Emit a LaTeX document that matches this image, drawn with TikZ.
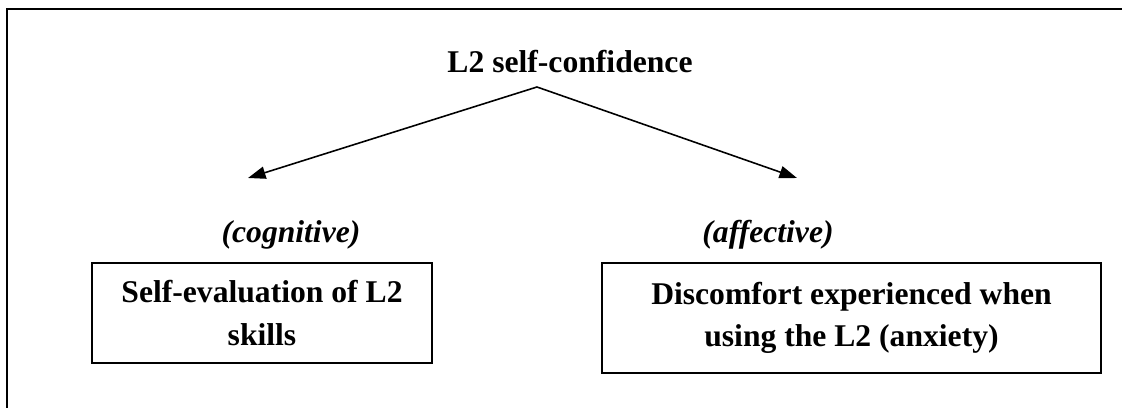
\documentclass[tikz,border=0pt]{standalone}
\usepackage{fontspec}
\setmainfont{Liberation Serif}
\usetikzlibrary{arrows.meta}
\tikzset{
  txt/.style={font=\fontsize{18}{23}\selectfont\bfseries, inner sep=0pt},
  aspekt/.style={font=\fontsize{18}{23}\selectfont\bfseries\itshape, inner sep=0pt},
  kasten/.style={draw, line width=1.1pt, align=center, font=\fontsize{18}{24}\selectfont\bfseries},
  pfeil/.style={line width=0.9pt, -{Triangle[length=10pt,width=7pt]}}
}
\begin{document}
\begin{tikzpicture}[x=0.02cm,y=-0.02cm]
\useasboundingbox (0,0) rectangle (1122,408);

%Rahmen
\draw[line width=1.3pt] (7,408) -- (7,9) -- (1122,9);

%Oberbegriff
\node[txt, anchor=base] (conf) at (570,73) {L2 self-confidence};
\coordinate (spitze) at (537,87);
\coordinate (links) at (248,178);
\coordinate (rechts) at (797,178);
\draw[pfeil] (spitze) -- (links);
\draw[pfeil] (spitze) -- (rechts);

%Aspekte
\foreach \n/\x/\t in {cog/291/cognitive, aff/768/affective}
{
	\node[aspekt, anchor=base] (\n) at (\x,243) {(\t)};
}

%Kaesten
\node[kasten, minimum width=6.8cm, minimum height=2cm] (eval) at (262,313)
	{Self-evaluation of L2\\skills};
\node[kasten, minimum width=9.98cm, minimum height=2.2cm] (angst) at (851.5,318)
	{Discomfort experienced when\\using the L2 (anxiety)};

\end{tikzpicture}
\end{document}
